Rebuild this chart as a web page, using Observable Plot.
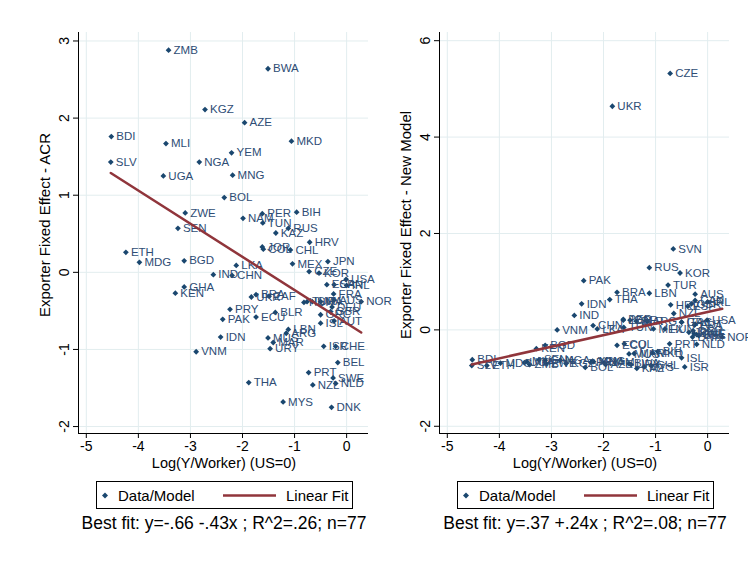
<!DOCTYPE html>
<html><head><meta charset="utf-8">
<script src="https://cdn.jsdelivr.net/npm/d3@7"></script>
<script src="https://cdn.jsdelivr.net/npm/@observablehq/plot@0.6"></script>
<style>
body{margin:0;background:#fff;font-family:"Liberation Sans",Arial,sans-serif;color:#000;}
#wrap{position:relative;width:748px;height:563px;overflow:hidden;background:#fff;}
.panel{position:absolute;top:0;width:374px;height:563px;}
.panel svg{position:absolute;left:0;top:0;}
.ytitle{position:absolute;font-size:15px;white-space:nowrap;transform:translate(-50%,-50%) rotate(-90deg);}
.xtitle{position:absolute;font-size:14.5px;white-space:nowrap;transform:translate(-50%,-50%);}
.legend{position:absolute;border:1px solid #000;box-sizing:border-box;font-size:15px;background:#fff;}
.legend span{position:absolute;top:50%;transform:translateY(-50%);white-space:nowrap;}
.legend svg{position:absolute;left:0;top:0;}
.caption{position:absolute;font-size:17.5px;white-space:nowrap;transform:translate(-50%,-50%);}
</style></head>
<body><div id="wrap"></div>
<script>
const countries = ["ZMB","BWA","KGZ","AZE","BDI","MLI","MKD","YEM","SLV","NGA","UGA","MNG","BOL","ZWE","NAM","PER","BIH","TUN","RUS","SEN","KAZ","HRV","JOR","COL","CHL","ETH","MDG","BGD","MEX","JPN","LKA","CZE","KOR","IND","CHN","USA","GHA","KEN","UKR","BRA","ZAF","PRY","PAK","ECU","BLR","IDN","LBN","ARG","MUS","MAR","URY","VNM","THA","MYS","ISR","CHE","BEL","PRT","SWE","NZL","NLD","DNK","NOR","AUS","ESP","CAN","FRA","TUR","SVN","ITA","GRC","GBR","ISL","AUT","IRL","HUN","DEU"];
const lny = [-3.42,-1.51,-2.72,-1.96,-4.52,-3.47,-1.06,-2.21,-4.53,-2.83,-3.52,-2.19,-2.35,-3.10,-1.99,-1.62,-0.96,-1.61,-1.12,-3.24,-1.36,-0.71,-1.62,-1.60,-1.08,-4.24,-3.98,-3.12,-1.04,-0.36,-2.12,-0.72,-0.53,-2.56,-2.20,-0.01,-3.12,-3.29,-1.83,-1.74,-1.49,-2.24,-2.38,-1.74,-1.37,-2.42,-1.12,-1.16,-1.51,-1.41,-1.47,-2.89,-1.88,-1.22,-0.44,-0.21,-0.17,-0.73,-0.26,-0.65,-0.21,-0.29,0.28,-0.24,-0.38,-0.24,-0.25,-0.76,-0.66,-0.50,-0.50,-0.31,-0.50,-0.24,0.00,-0.82,-0.28];
const acr = [2.88,2.64,2.11,1.94,1.76,1.67,1.70,1.55,1.43,1.43,1.25,1.26,0.97,0.77,0.70,0.76,0.78,0.64,0.57,0.57,0.51,0.39,0.33,0.30,0.29,0.26,0.13,0.15,0.11,0.14,0.09,0.01,-0.01,-0.03,-0.04,-0.09,-0.19,-0.27,-0.32,-0.29,-0.31,-0.48,-0.61,-0.58,-0.52,-0.84,-0.74,-0.79,-0.85,-0.91,-0.99,-1.03,-1.43,-1.68,-0.96,-0.96,-1.17,-1.30,-1.37,-1.46,-1.44,-1.75,-0.38,-0.36,-0.16,-0.16,-0.28,-0.38,-0.38,-0.38,-0.55,-0.51,-0.66,-0.63,-0.17,-0.39,-0.45];
const newModel = [-0.72,-0.70,-0.70,-0.72,-0.62,-0.66,-0.48,-0.65,-0.74,-0.63,-0.68,-0.66,-0.78,-0.70,-0.68,0.22,-0.45,0.05,1.29,-0.62,-0.80,0.52,0.20,-0.29,-0.74,-0.74,-0.69,-0.32,0.02,-0.05,0.02,5.32,1.18,0.30,0.09,0.20,-0.63,-0.39,4.64,0.78,0.20,-0.67,1.02,-0.32,0.18,0.54,0.76,0.18,-0.50,-0.49,-0.72,0.00,0.63,-0.77,-0.77,-0.10,-0.12,-0.29,-0.08,0.34,-0.30,-0.15,-0.15,0.74,0.49,0.61,0.10,0.93,1.68,0.16,0.16,0.54,-0.58,0.12,0.58,0.02,-0.02];
const fitIntercepts = [-0.66, 0.37];
const fitSlopes = [-0.43, 0.24];
const yTitles = ["Exporter Fixed Effect - ACR", "Exporter Fixed Effect - New Model"];
const xTitle = "Log(Y/Worker) (US=0)";
const captions = ["Best fit: y=-.66 -.43x ; R^2=.26; n=77", "Best fit: y=.37 +.24x ; R^2=.08; n=77"];
const legendLabels = ["Data/Model", "Linear Fit"];
const xTicks = [-5,-4,-3,-2,-1,0];
const yTicksList = [[-2,-1,0,1,2,3],[-2,0,2,4,6]];
const xDomain = [-5.15, 0.42];
const yDomains = [[-2.09, 3.11],[-2.15, 6.17]];

const NAVY = "#1a476f", MAROON = "#90353b", GRID = "#e2edef", LABEL = "#2e4d75";
const FONT = "'Liberation Sans', Arial, sans-serif";
const wrap = document.getElementById("wrap");

function makePanel(k, offsetLeft) {
  const yvals = k === 0 ? acr : newModel;
  const data = countries.map((c, i) => ({c, x: lny[i], y: yvals[i]}));
  const ext = d3.extent(lny);
  const fit = ext.map(x => ({x, y: fitIntercepts[k] + fitSlopes[k] * x}));
  const yDomain = yDomains[k];
  const chart = Plot.plot({
    width: 374, height: 475,
    marginLeft: 78, marginRight: 6, marginTop: 32, marginBottom: 42,
    x: {domain: xDomain},
    y: {domain: yDomain},
    style: {fontFamily: FONT, fontSize: "14px", color: "#000", background: "transparent", overflow: "visible"},
    marks: [
      Plot.gridX(xTicks, {stroke: GRID, strokeOpacity: 1, strokeWidth: 1}),
      Plot.gridY(yTicksList[k], {stroke: GRID, strokeOpacity: 1, strokeWidth: 1}),
      Plot.ruleX([xDomain[0]], {stroke: "#000", strokeWidth: 1}),
      Plot.ruleY([yDomain[0]], {stroke: "#000", strokeWidth: 1}),
      Plot.axisX(xTicks, {tickSize: 5, tickPadding: 3, label: null, tickFormat: d => String(d), fontSize: 14}),
      Plot.axisY(yTicksList[k], {tickSize: 5, tickPadding: 5, tickRotate: -90, label: null, tickFormat: d => String(d), fontSize: 14}),
      Plot.dot(data, {x: "x", y: "y", symbol: "diamond2", r: 2.6, fill: NAVY, stroke: "none"}),
      Plot.text(data, {x: "x", y: "y", text: "c", dx: 5, textAnchor: "start", fontSize: 11.5, fill: LABEL}),
      Plot.line(fit, {x: "x", y: "y", stroke: MAROON, strokeWidth: 2.5})
    ]
  });
  const panel = document.createElement("div");
  panel.className = "panel";
  panel.style.left = offsetLeft + "px";
  panel.appendChild(chart);

  const yt = document.createElement("div");
  yt.className = "ytitle"; yt.textContent = yTitles[k];
  yt.style.left = "44px"; yt.style.top = "225px";
  panel.appendChild(yt);

  const xt = document.createElement("div");
  xt.className = "xtitle"; xt.textContent = xTitle;
  xt.style.left = "224px"; xt.style.top = "463px";
  panel.appendChild(xt);

  const lg = document.createElement("div");
  lg.className = "legend";
  lg.style.left = "96px"; lg.style.top = "481px"; lg.style.width = "257px"; lg.style.height = "28px";
  lg.innerHTML = `<svg width="257" height="28"><path d="M8,10.5 L11,13.5 L8,16.5 L5,13.5 Z" fill="${NAVY}"/><line x1="126" x2="179" y1="13.5" y2="13.5" stroke="${MAROON}" stroke-width="2.5"/></svg>`;
  const s1 = document.createElement("span"); s1.textContent = legendLabels[0]; s1.style.left = "21px";
  const s2 = document.createElement("span"); s2.textContent = legendLabels[1]; s2.style.left = "189px";
  lg.appendChild(s1); lg.appendChild(s2);
  panel.appendChild(lg);

  const cp = document.createElement("div");
  cp.className = "caption"; cp.textContent = captions[k];
  cp.style.left = "224px"; cp.style.top = "523px";
  panel.appendChild(cp);

  wrap.appendChild(panel);
}
makePanel(0, 0);
makePanel(1, 361);
</script></body></html>
